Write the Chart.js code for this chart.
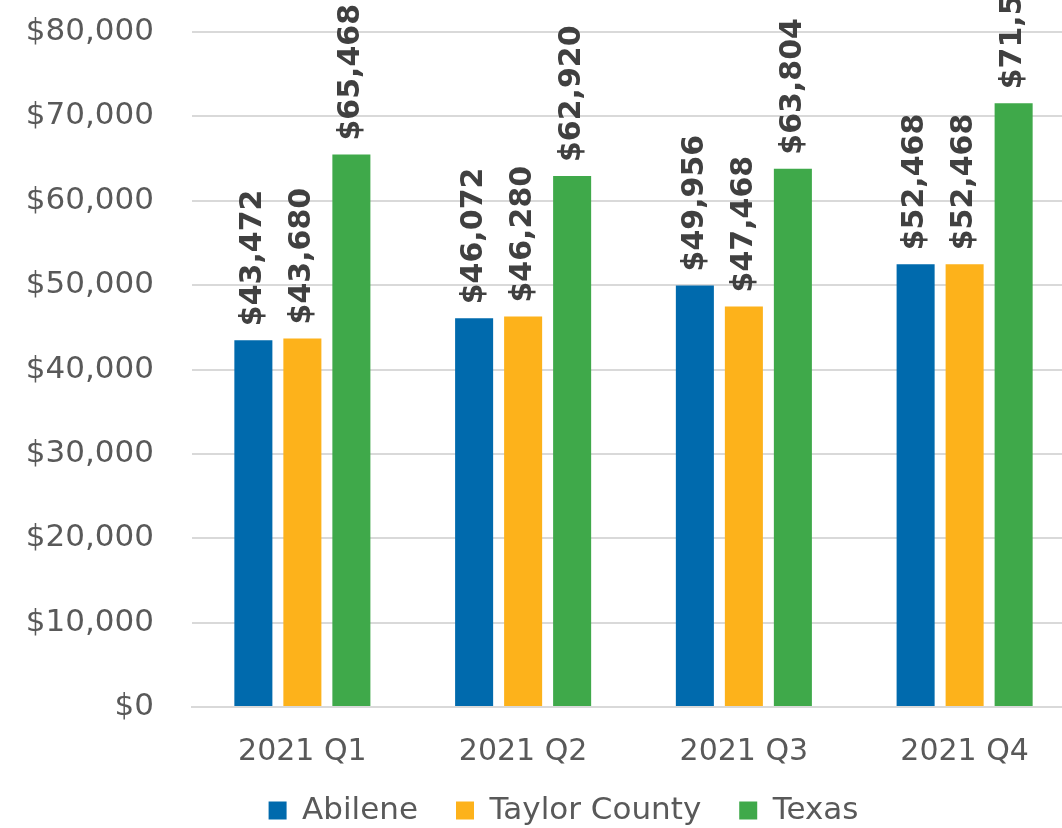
<!DOCTYPE html>
<html>
<head>
<meta charset="utf-8">
<script src="https://cdn.jsdelivr.net/npm/chart.js@4.4.1/dist/chart.umd.min.js"></script>
<style>
    html, body { margin: 0; padding: 0; background: #ffffff; overflow: hidden; }
    #wrap { position: absolute; left: 0; top: 0; width: 1075px; height: 856px; }
</style>
</head>
<body>
<div id="wrap"><canvas id="incomeChart" width="1075" height="856"></canvas></div>
<script>
const quarters = ['2021 Q1', '2021 Q2', '2021 Q3', '2021 Q4'];
const abilene = [43472, 46072, 49956, 52468];
const taylorCounty = [43680, 46280, 47468, 52468];
const texas = [65468, 62920, 63804, 71552];
const yTicks = [0, 10000, 20000, 30000, 40000, 50000, 60000, 70000, 80000];

const money = v => '$' + v.toLocaleString('en-US');

// rotated value labels above each bar
const barLabels = {
    id: 'barLabels',
    afterDatasetsDraw(chart) {
        const ctx = chart.ctx;
        ctx.save();
        ctx.font = 'bold 30px "DejaVu Sans"';
        ctx.fillStyle = '#404040';
        ctx.textAlign = 'left';
        ctx.textBaseline = 'middle';
        chart.data.datasets.forEach((ds, i) => {
            chart.getDatasetMeta(i).data.forEach((bar, j) => {
                ctx.save();
                ctx.translate(bar.x, bar.y - 14);
                ctx.rotate(-Math.PI / 2);
                ctx.fillText(money(ds.data[j]), 0, 0);
                ctx.restore();
            });
        });
        ctx.restore();
    }
};

// nudge the legend so it sits where the original one does
const legendShift = {
    id: 'legendShift',
    afterLayout(chart) {
        const lg = chart.legend;
        lg.top -= 20; lg.bottom -= 20;
        lg.left += 26; lg.right += 26;
    }
};

new Chart(document.getElementById('incomeChart'), {
    type: 'bar',
    data: {
        labels: quarters,
        datasets: [
            { label: 'Abilene', data: abilene, backgroundColor: '#006AAD' },
            { label: 'Taylor County', data: taylorCounty, backgroundColor: '#FDB21B' },
            { label: 'Texas', data: texas, backgroundColor: '#3FA94A' }
        ]
    },
    options: {
        responsive: false,
        animation: false,
        layout: { padding: { top: 32, right: 0, left: 0, bottom: 0 } },
        datasets: { bar: { categoryPercentage: 0.666, barPercentage: 0.776 } },
        plugins: {
            tooltip: { enabled: false },
            legend: {
                position: 'bottom',
                labels: {
                    color: '#595959',
                    font: { family: 'DejaVu Sans', size: 31 },
                    boxWidth: 18,
                    boxHeight: 18,
                    padding: 38
                }
            }
        },
        scales: {
            x: {
                afterFit: axis => { axis.height = 70; },
                grid: { display: false, drawTicks: false },
                border: { color: '#D9D9D9', width: 2 },
                ticks: {
                    color: '#595959',
                    font: { family: 'DejaVu Sans', size: 30 },
                    padding: 27
                }
            },
            y: {
                min: 0,
                max: 80000,
                afterBuildTicks: axis => { axis.ticks = yTicks.map(v => ({ value: v })); },
                afterFit: axis => {
                    axis.width = 192;
                    axis.paddingTop = 0;
                    axis.paddingBottom = 0;
                },
                grid: { color: '#D9D9D9', lineWidth: 2, drawTicks: false },
                border: { display: false },
                ticks: {
                    color: '#595959',
                    font: { family: 'DejaVu Sans', size: 31 },
                    padding: 38,
                    callback: v => money(v)
                }
            }
        }
    },
    plugins: [barLabels, legendShift]
});
</script>
</body>
</html>
